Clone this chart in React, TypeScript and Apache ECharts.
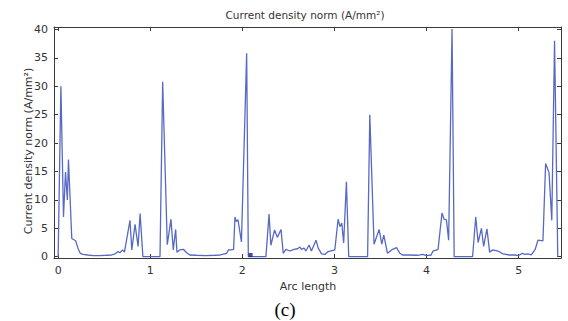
import React, { useEffect, useRef } from "react";
import * as echarts from "echarts";

const arcLength: number[] = [
  0.0, 0.03, 0.058, 0.08, 0.1, 0.112, 0.13, 0.148, 0.19, 0.215, 0.24, 0.27, 0.32, 0.38, 0.45, 0.52, 0.58, 0.62, 0.65, 0.67, 0.7, 0.72,
  0.78, 0.8, 0.835, 0.868, 0.89, 0.92, 1.0, 1.106, 1.135, 1.185, 1.225, 1.25, 1.276, 1.29, 1.32, 1.36, 1.395, 1.43, 1.5, 1.6, 1.7, 1.76,
  1.83, 1.85, 1.88, 1.905, 1.92, 1.935, 1.953, 1.99, 2.047, 2.065, 2.256, 2.29, 2.31, 2.35, 2.38, 2.42, 2.444, 2.473, 2.516, 2.56, 2.6,
  2.625, 2.643, 2.67, 2.69, 2.725, 2.75, 2.8, 2.824, 2.86, 2.896, 2.932, 3.004, 3.04, 3.06, 3.08, 3.1, 3.13, 3.155, 3.36, 3.384, 3.43,
  3.485, 3.514, 3.536, 3.576, 3.62, 3.674, 3.71, 3.74, 3.82, 3.9, 3.96, 4.0, 4.05, 4.07, 4.125, 4.168, 4.19, 4.216, 4.24, 4.277, 4.3,
  4.5, 4.534, 4.56, 4.596, 4.62, 4.656, 4.685, 4.72, 4.776, 4.83, 4.9, 4.96, 5.0, 5.04, 5.07, 5.1, 5.137, 5.18, 5.21, 5.264, 5.293, 5.33,
  5.36, 5.39, 5.425,
];

const currentDensity: number[] = [
  0, 30, 7.0, 14.9, 10.0, 17.1, 10.2, 3.2, 2.8, 1.5, 0.6, 0.4, 0.3, 0.2, 0.2, 0.25, 0.3, 0.5, 0.9, 0.7, 1.2, 0.8,
  6.4, 1.2, 5.7, 1.8, 7.6, 0, 0, 0, 30.8, 2.1, 6.6, 1.2, 4.8, 0.8, 1.2, 1.3, 0.7, 0.3, 0.25, 0.2, 0.25, 0.3,
  0.6, 1.2, 1.2, 1.3, 7.0, 6.2, 6.5, 2.6, 35.8, 0, 0, 7.5, 2.0, 4.7, 3.4, 4.8, 0.6, 1.3, 1.0, 1.3, 1.4,
  1.7, 1.3, 1.5, 1.0, 2.05, 1.0, 2.9, 1.5, 0.5, 0.4, 0.9, 1.2, 6.6, 5.3, 5.9, 2.4, 13.2, 0, 0, 25.0, 2.2,
  4.8, 2.2, 3.8, 0.6, 1.2, 1.6, 0.6, 0.3, 0.3, 0.25, 0.4, 0.2, 0.3, 1.0, 1.3, 7.7, 6.6, 6.5, 2.9, 40.1, 0,
  0, 7.0, 2.5, 5.0, 1.8, 4.9, 0.8, 1.2, 1.0, 0.5, 0.3, 0.3, 0.2, 0.6, 0.4, 0.5, 0.3, 1.3, 2.9, 2.8, 16.4, 14.8,
  6.4, 38.0, 0,
];

const markerPoint: number[][] = [[2.09, 0.3]];

const xTicks: number[] = [0, 1, 2, 3, 4, 5];
const yTicks: number[] = [0, 5, 10, 15, 20, 25, 30, 35, 40];

const titleText = "Current density norm (A/mm²)";
const yName = "Current density norm (A/mm²)";
const xName = "Arc length";
const caption = "(c)";

export default function App() {
  const ref = useRef<HTMLDivElement>(null);
  useEffect(() => {
    if (!ref.current) return;
    const chart = echarts.init(ref.current, null, { renderer: "svg" });
    const axisColor = "#3a3a3a";
    const font = "DejaVu Sans";
    const xMin = -0.045;
    const xMax = 5.46;
    const yMin = -0.23;
    const yMax = 40.44;
    const baseX = {
      type: "value" as const,
      min: xMin,
      max: xMax,
      splitLine: { show: false },
      axisLine: { show: true, onZero: false, lineStyle: { color: axisColor, width: 1 } },
      axisTick: { show: true, inside: true, length: 4, customValues: xTicks, lineStyle: { color: axisColor } },
    };
    const baseY = {
      type: "value" as const,
      min: yMin,
      max: yMax,
      splitLine: { show: false },
      axisLine: { show: true, onZero: false, lineStyle: { color: axisColor, width: 1 } },
      axisTick: { show: true, inside: true, length: 4, customValues: yTicks, lineStyle: { color: axisColor } },
    };
    const data = arcLength.map((x, i) => [x, currentDensity[i]]);
    chart.setOption({
      animation: false,
      backgroundColor: "#ffffff",
      grid: { left: 54, right: 7, top: 27, bottom: 63, containLabel: false },
      xAxis: [
        {
          ...baseX,
          position: "bottom",
          axisLabel: {
            show: true,
            customValues: xTicks,
            color: "#333",
            fontFamily: font,
            fontSize: 11,
            margin: 7,
          },
        },
        { ...baseX, position: "top", axisLabel: { show: false } },
      ],
      yAxis: [
        {
          ...baseY,
          position: "left",
          axisLabel: {
            show: true,
            customValues: yTicks,
            color: "#333",
            fontFamily: font,
            fontSize: 11,
            margin: 6,
          },
        },
        { ...baseY, position: "right", axisLabel: { show: false } },
      ],
      series: [
        {
          type: "line",
          data,
          showSymbol: false,
          symbol: "none",
          lineStyle: { color: "#5769c4", width: 1.3 },
          xAxisIndex: 0,
          yAxisIndex: 0,
          z: 3,
        },
        {
          type: "scatter",
          data: markerPoint,
          symbol: "rect",
          symbolSize: 4,
          itemStyle: { color: "#1c1c8a" },
          xAxisIndex: 0,
          yAxisIndex: 0,
          z: 4,
        },
      ],
      graphic: [
        {
          type: "text",
          x: 305,
          y: 15,
          style: {
            text: titleText,
            fill: "#333",
            font: `10.5px "${font}"`,
            textAlign: "center",
            textVerticalAlign: "middle",
          },
        },
        {
          type: "text",
          x: 28,
          y: 151,
          rotation: Math.PI / 2,
          style: {
            text: yName,
            fill: "#333",
            font: `11px "${font}"`,
            textAlign: "center",
            textVerticalAlign: "middle",
          },
        },
        {
          type: "text",
          x: 308,
          y: 286,
          style: {
            text: xName,
            fill: "#333",
            font: `11px "${font}"`,
            textAlign: "center",
            textVerticalAlign: "middle",
          },
        },
        {
          type: "text",
          x: 285,
          y: 309,
          style: {
            text: caption,
            fill: "#000",
            font: `19px "Liberation Serif"`,
            textAlign: "center",
            textVerticalAlign: "middle",
          },
        },
      ],
    });
    return () => chart.dispose();
  }, []);
  return (
    <div
      ref={ref}
      style={{ position: "fixed", left: 0, top: 0, width: 568, height: 321, background: "#fff" }}
    />
  );
}
